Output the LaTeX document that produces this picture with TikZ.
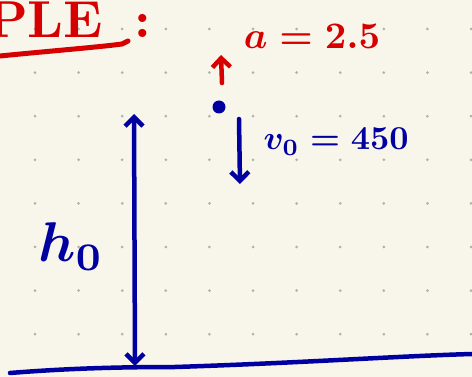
\documentclass[tikz,border=0pt]{standalone}
\usetikzlibrary{arrows.meta}
\tikzset{>={Straight Barb[length=9pt,width=18pt]}}
\definecolor{paper}{RGB}{248,246,235}
\definecolor{inkred}{RGB}{214,0,0}
\definecolor{inkblue}{RGB}{0,0,160}
\definecolor{griddot}{RGB}{178,178,172}

\begin{document}
\begin{tikzpicture}[x=1pt, y=-1pt, line cap=round, line join=round,
  ink/.style={line width=4.5pt},
  label text/.style={inner sep=0pt, anchor=base west, font=\boldmath\bfseries}]
  \useasboundingbox (0,0) rectangle (472,377);
  \clip (0,0) rectangle (472,377);
  \fill[paper] (0,0) rectangle (472,377);
  \pgfmathsetmacro{\gap}{43.6}
  \foreach \i in {0,...,10}
    \foreach \j in {0,...,7}
      \fill[griddot] (35+\i*\gap, 29+\j*\gap) circle (1.5pt);
  % heading, cut off at the page edge
  \node[label text, inkred, scale=5.2] (title) at (-14,38) {PLE\hspace{.6em}:};
  \draw[inkred, line width=5pt] (0,56) .. controls (50,51) and (100,47) .. (122,44) -- (128,41);
  % falling mass
  \node[circle, fill=inkblue, inner sep=0pt, minimum size=13pt] (mass) at (219,107) {};
  \coordinate (atail) at (222,83);
  \coordinate (ahead) at (221,55);
  \draw[inkred, ink, ->] (atail) -- (ahead);
  \node[label text, inkred, scale=3.75] (acc) at (243,49) {$a=2.5$};
  \coordinate (vtail) at (239,119);
  \coordinate (vhead) at (240,184);
  \draw[inkblue, ink, ->] (vtail) -- (vhead);
  \node[label text, inkblue, scale=3.35] (vel) at (263,150) {$v_0=450$};
  % height and ground
  \coordinate (htop) at (134,114);
  \coordinate (hbot) at (135,366);
  \draw[inkblue, ink, <->] (htop) -- (hbot);
  \node[label text, inkblue, scale=5.6] (height) at (37,262) {$h_0$};
  \coordinate (gleft) at (10,373);
  \coordinate (gmid) at (175,367);
  \coordinate (gright) at (472,354);
  \draw[inkblue, ink] (gleft) .. controls (60,369) and (110,367) .. (gmid)
    .. controls (300,363) and (400,356) .. (gright);
\end{tikzpicture}
\end{document}
